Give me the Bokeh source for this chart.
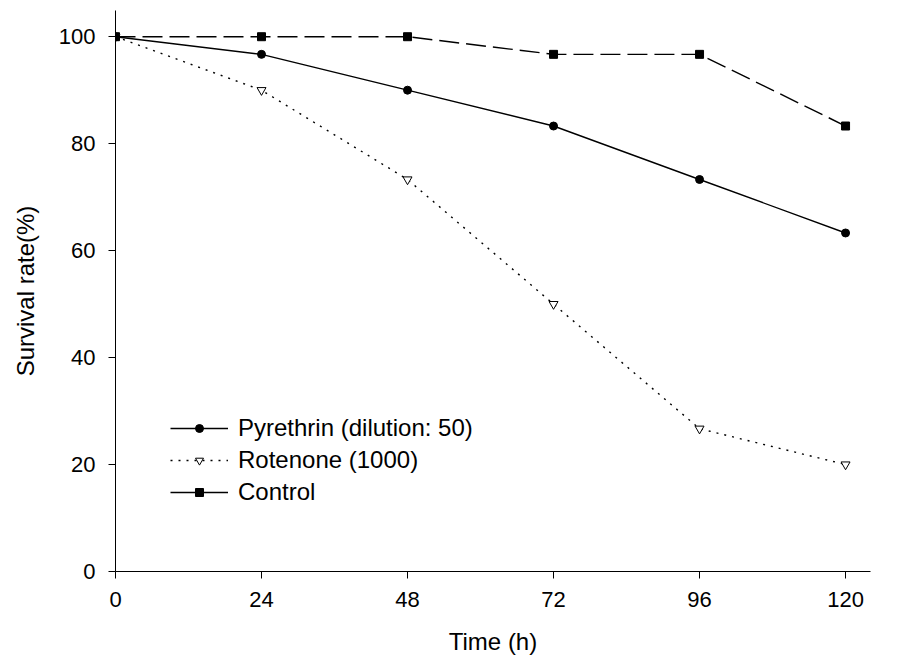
from bokeh.plotting import figure
from bokeh.models import Legend, LegendItem, ColumnDataSource, Range1d, FixedTicker
from bokeh.embed import file_html
from bokeh.resources import INLINE

time_h = [0, 24, 48, 72, 96, 120]
pyrethrin = [100, 96.7, 90, 83.3, 73.3, 63.3]
rotenone = [100, 90, 73.3, 50, 26.7, 20]
control = [100, 100, 100, 96.7, 96.7, 83.3]
x_ticks = [0, 24, 48, 72, 96, 120]
y_ticks = [0, 20, 40, 60, 80, 100]

FONT = "Liberation Sans"

p = figure(width=890, height=664, output_backend="svg", toolbar_location=None,
           x_range=Range1d(0, 124.1), y_range=Range1d(0, 104.9),
           min_border_left=115, min_border_right=20, min_border_top=10, min_border_bottom=93)
p.outline_line_color = None
p.xgrid.visible = False
p.ygrid.visible = False

src = ColumnDataSource(dict(t=time_h, py=pyrethrin, ro=rotenone, co=control))

r_co_line = p.line("t", "co", source=src, line_color="black", line_width=1.4, line_dash="20 7")
r_co_pts = p.scatter("t", "co", source=src, marker="square", size=8, color="black")
r_ro_line = p.line("t", "ro", source=src, line_color="black", line_width=1.4, line_dash="2 6")
r_ro_pts = p.scatter("t", "ro", source=src, marker="inverted_triangle", size=9,
                     fill_color="white", line_color="black", line_width=1)
r_py_line = p.line("t", "py", source=src, line_color="black", line_width=1.4)
r_py_pts = p.scatter("t", "py", source=src, marker="circle", size=8, color="black")

# legend-only renderer for control (legend shows a solid line)
nan = float("nan")
empty = ColumnDataSource(dict(t=[nan], co=[nan]))
leg_co_line = p.line("t", "co", source=empty, line_color="black", line_width=1.4)
leg_co_pts = p.scatter("t", "co", source=empty, marker="square", size=8, color="black")

legend = Legend(items=[
    LegendItem(label="Pyrethrin (dilution: 50)", renderers=[r_py_line, r_py_pts]),
    LegendItem(label="Rotenone (1000)", renderers=[r_ro_line, r_ro_pts]),
    LegendItem(label="Control", renderers=[leg_co_line, leg_co_pts]),
], location=(55, 63))
legend.border_line_color = None
legend.background_fill_alpha = 0
legend.padding = 0
legend.margin = 0
legend.spacing = 0
legend.glyph_width = 58
legend.glyph_height = 20
legend.label_height = 32
legend.label_standoff = 10
legend.label_text_font = FONT
legend.label_text_font_size = "24px"
legend.label_text_color = "black"
p.add_layout(legend, "center")

for ax in (p.xaxis[0], p.yaxis[0]):
    ax.axis_line_color = "black"
    ax.axis_line_width = 1
    ax.major_tick_line_color = "black"
    ax.major_tick_in = 0
    ax.major_tick_out = 7
    ax.minor_tick_line_color = None
    ax.major_label_text_font = FONT
    ax.major_label_text_font_size = "22px"
    ax.major_label_text_color = "black"
    ax.axis_label_text_font = FONT
    ax.axis_label_text_font_size = "24px"
    ax.axis_label_text_font_style = "normal"
    ax.axis_label_text_color = "black"
    ax.major_label_standoff = 13

p.xaxis[0].ticker = FixedTicker(ticks=x_ticks)
p.yaxis[0].ticker = FixedTicker(ticks=y_ticks)
p.xaxis[0].axis_label = "Time (h)"
p.yaxis[0].axis_label = "Survival rate(%)"
p.xaxis[0].axis_label_standoff = 18
p.yaxis[0].axis_label_standoff = 17

open("out.html", "w").write(file_html(p, INLINE))
